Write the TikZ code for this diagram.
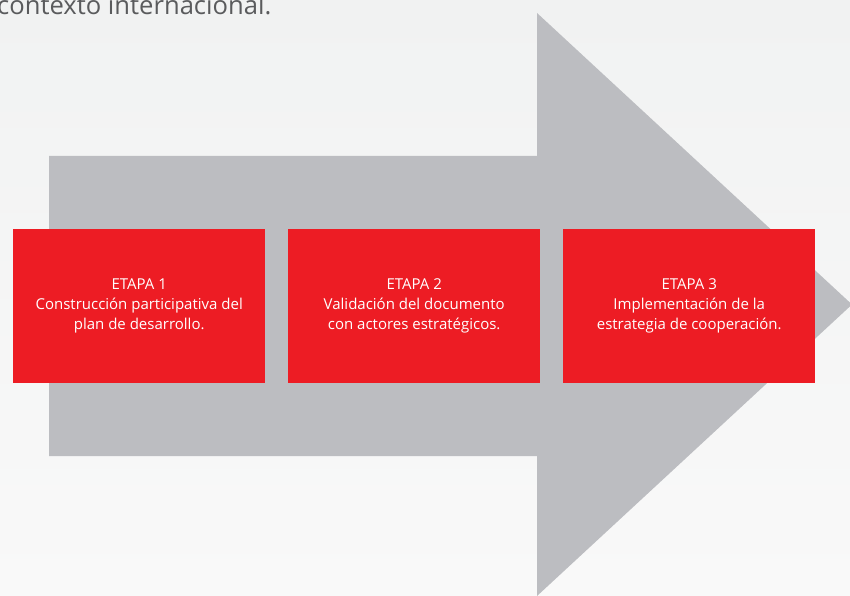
\documentclass[tikz,border=0pt]{standalone}
\usepackage{fontspec}
\setmainfont{Open Sans}
\definecolor{bgtop}{HTML}{F1F2F2}
\definecolor{bgbot}{HTML}{F9F9F9}
\definecolor{arrowgrey}{HTML}{BCBDC1}
\definecolor{stagered}{HTML}{ED1C24}
\definecolor{toptext}{HTML}{5A5B5D}
\tikzset{
  stagebox/.style={fill=stagered, draw=none, minimum width=252pt, minimum height=154pt,
    anchor=north west, inner sep=0pt, text=white, align=center,
    font=\fontsize{15}{20}\selectfont}
}
\begin{document}
\begin{tikzpicture}[x=1pt,y=-1pt]
\useasboundingbox (0,0) rectangle (850,596);
\shade[top color=bgtop, bottom color=bgbot] (0,0) rectangle (850,596);
% big arrow
\fill[arrowgrey] (49,156) -- (537,156) -- (537,13) -- (852,304.5) -- (537,596) -- (537,456) -- (49,456) -- cycle;
% top text
\node[anchor=base west, inner sep=0pt, text=toptext, font=\fontsize{25.6}{30}\selectfont] (ctx) at (-3,15) {contexto internacional.};
% stages
\node[stagebox] (s1) at (13,229) {ETAPA 1\\Construcción participativa del\\plan de desarrollo.};
\node[stagebox] (s2) at (288,229) {ETAPA 2\\Validación del documento\\con actores estratégicos.};
\node[stagebox] (s3) at (563,229) {ETAPA 3\\Implementación de la\\estrategia de cooperación.};
\end{tikzpicture}
\end{document}
